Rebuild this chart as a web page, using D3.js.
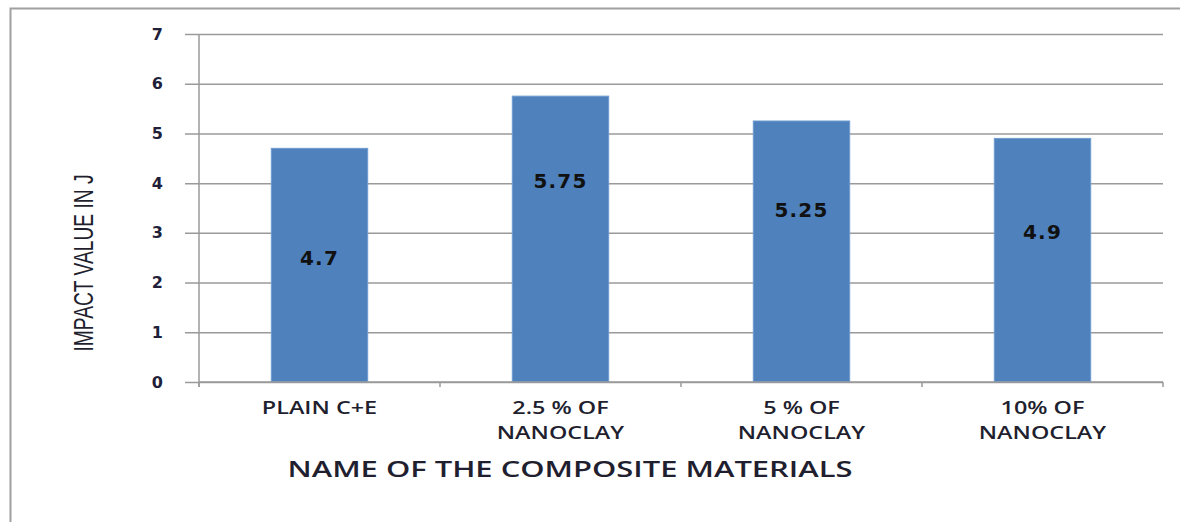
<!DOCTYPE html>
<html>
<head>
<meta charset="utf-8">
<script src="https://cdn.jsdelivr.net/npm/d3@7"></script>
<style>
  body { margin: 0; background: #fff; }
</style>
</head>
<body>
<div id="chart"></div>
<script>
// data
const categories = [
    ["PLAIN C+E"],
    ["2.5 % OF", "NANOCLAY"],
    ["5 % OF", "NANOCLAY"],
    ["10% OF", "NANOCLAY"]
];
const impactValues = [4.7, 5.75, 5.25, 4.9];
const labelLevels = [2.49, 4.05, 3.47, 3.02];   // where each value label sits, in axis units
const yTicks = [0, 1, 2, 3, 4, 5, 6, 7];

const width = 1180, height = 522;
const margin = { top: 34, right: 17, bottom: 140, left: 199 };

const svg = d3.select("#chart")
    .append("svg")
    .attr("width", width)
    .attr("height", height);

// outer chart frame
svg.append("rect")
    .attr("x", 10.5)
    .attr("y", 8.5)
    .attr("width", width)
    .attr("height", height)
    .attr("fill", "none")
    .attr("stroke", "#a0a0a0")
    .attr("stroke-width", 2);

const x = d3.scaleBand()
    .domain(d3.range(categories.length))
    .range([margin.left, width - margin.right])
    .paddingInner(0.6)
    .paddingOuter(0.3);

const y = d3.scaleLinear()
    .domain([0, 7])
    .range([height - margin.bottom, margin.top]);

// gridlines + y ticks
svg.append("g")
    .attr("transform", "translate(" + margin.left + ",0)")
    .call(d3.axisLeft(y).tickValues(yTicks).tickFormat(d3.format("d"))
        .tickSize(-(width - margin.left - margin.right)).tickSizeOuter(0).tickPadding(36))
    .call(g => g.select(".domain").remove())
    .call(g => g.selectAll(".tick line")
        .attr("stroke", "#9a9a9a")
        .attr("stroke-width", 1.5)
        .attr("x1", -14))
    .call(g => g.selectAll(".tick text")
        .attr("font-family", "DejaVu Sans, Verdana, sans-serif")
        .attr("font-weight", "bold")
        .attr("font-size", 16)
        .attr("fill", "#1f1f3a"));

// bars
svg.append("g")
    .selectAll("rect")
    .data(impactValues)
    .join("rect")
    .attr("x", (d, i) => x(i))
    .attr("y", d => y(d))
    .attr("width", x.bandwidth())
    .attr("height", d => y(0) - y(d))
    .attr("fill", "#4f81bd")
    .attr("stroke", "#6f9bd0")
    .attr("stroke-width", 1);

// value labels
svg.append("g")
    .selectAll("text")
    .data(impactValues)
    .join("text")
    .attr("x", (d, i) => x(i) + x.bandwidth() / 2)
    .attr("y", (d, i) => y(labelLevels[i]))
    .attr("dy", "0.36em")
    .attr("text-anchor", "middle")
    .attr("font-family", "DejaVu Sans, Verdana, sans-serif")
    .attr("font-weight", "bold")
    .attr("font-size", 20)
    .attr("letter-spacing", 1.2)
    .attr("fill", "#111")
    .text(d => d);

// y axis line
svg.append("line")
    .attr("x1", margin.left).attr("x2", margin.left)
    .attr("y1", margin.top).attr("y2", y(0) + 5)
    .attr("stroke", "#9a9a9a")
    .attr("stroke-width", 1.5);

// x axis line with category ticks
const step = x.step();
const xAxis = svg.append("g");
xAxis.append("line")
    .attr("x1", margin.left).attr("x2", width - margin.right)
    .attr("y1", y(0)).attr("y2", y(0))
    .attr("stroke", "#9a9a9a")
    .attr("stroke-width", 1.5);
xAxis.selectAll(".xtick")
    .data(d3.range(categories.length + 1))
    .join("line")
    .attr("class", "xtick")
    .attr("x1", i => margin.left + i * step)
    .attr("x2", i => margin.left + i * step)
    .attr("y1", y(0))
    .attr("y2", y(0) + 5)
    .attr("stroke", "#9a9a9a")
    .attr("stroke-width", 1.5);

// category labels (the original font is wide, so stretch a bit)
const catLabels = svg.append("g")
    .selectAll("text")
    .data(categories)
    .join("text")
    .attr("x", (d, i) => x(i) + x.bandwidth() / 2)
    .attr("y", y(0) + 32)
    .attr("text-anchor", "middle")
    .attr("font-family", "Open Sans, Liberation Sans, sans-serif")
    .attr("font-weight", 600)
    .attr("font-size", 18)
    .attr("fill", "#1f1f2f");
catLabels.selectAll("tspan")
    .data(d => d)
    .join("tspan")
    .attr("x", function () { return d3.select(this.parentNode).attr("x"); })
    .attr("dy", (d, i) => i === 0 ? 0 : 25)
    .text(d => d)
    .each(function () {
        const w = this.getComputedTextLength();
        d3.select(this).attr("textLength", w * 1.3).attr("lengthAdjust", "spacingAndGlyphs");
    });

// axis titles
svg.append("text")
    .attr("x", 570)
    .attr("y", 477)
    .attr("text-anchor", "middle")
    .attr("font-family", "Open Sans, Liberation Sans, sans-serif")
    .attr("font-weight", 600)
    .attr("font-size", 21)
    .attr("textLength", 565)
    .attr("lengthAdjust", "spacingAndGlyphs")
    .attr("fill", "#1f1f2f")
    .text("NAME OF THE COMPOSITE MATERIALS");

svg.append("text")
    .attr("transform", "translate(93,263) rotate(-90)")
    .attr("text-anchor", "middle")
    .attr("font-family", "Liberation Sans Narrow, Liberation Sans, sans-serif")
    .attr("font-size", 27)
    .attr("textLength", 177)
    .attr("lengthAdjust", "spacingAndGlyphs")
    .attr("fill", "#1f1f2f")
    .text("IMPACT VALUE IN J");
</script>
</body>
</html>
